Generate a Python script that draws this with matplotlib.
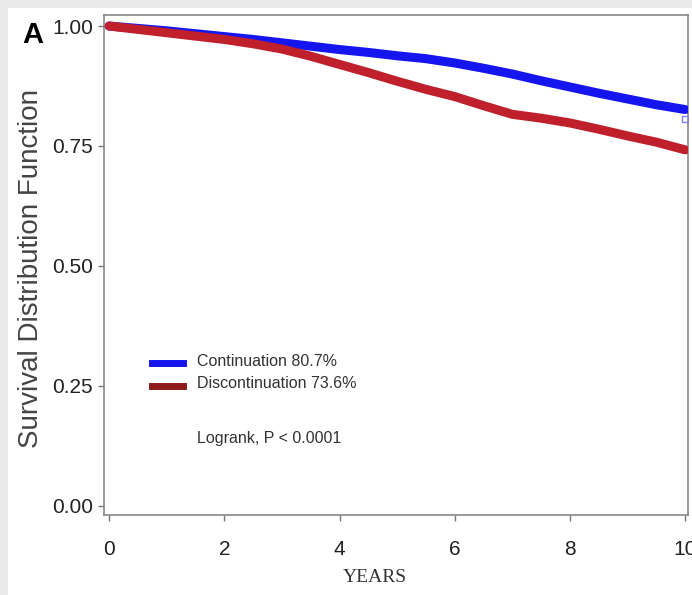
import matplotlib.pyplot as plt
from matplotlib.patches import Rectangle

# survival estimates
years = [0, 0.5, 1, 1.5, 2, 2.5, 3, 3.5, 4, 4.5, 5, 5.5, 6, 6.5, 7, 7.5, 8, 8.5, 9, 9.5, 10]
continuation = [1.0, 0.995, 0.99, 0.984, 0.978, 0.972, 0.965, 0.958, 0.951, 0.945, 0.938,
                0.932, 0.923, 0.912, 0.9, 0.886, 0.873, 0.86, 0.848, 0.836, 0.826]
discontinuation = [1.0, 0.993, 0.986, 0.979, 0.972, 0.963, 0.952, 0.937, 0.92, 0.903, 0.885,
                   0.868, 0.853, 0.834, 0.816, 0.808, 0.798, 0.785, 0.771, 0.758, 0.742]
labels = ["Continuation 80.7%", "Discontinuation 73.6%"]
xticks = [0, 2, 4, 6, 8, 10]
yticks = [0.0, 0.25, 0.5, 0.75, 1.0]

narrow = ["Liberation Sans Narrow", "Liberation Sans", "DejaVu Sans"]

fig = plt.figure(figsize=(6.92, 5.95), dpi=100)
fig.patch.set_facecolor("#e9e9e9")
fig.patches.append(Rectangle((8 / 692, 0), 1, 1 - 8 / 595, transform=fig.transFigure,
                             facecolor="white", edgecolor="none", zorder=-10))

ax = fig.add_axes([104 / 692, 80 / 595, (688 - 104) / 692, (515 - 15) / 595])
ax.plot(years, continuation, color="#1515f0", lw=6.5, solid_capstyle="round", zorder=3)
ax.plot(years, discontinuation, color="#c0202c", lw=6.5, solid_capstyle="round", zorder=3)
ax.plot([years[-1]], [continuation[-1] - 0.02], marker="s", ms=4, mfc="none",
        mec="#8080ff", zorder=4)

ax.set_xlim(-0.09, 10.05)
ax.set_ylim(-0.019, 1.023)
ax.set_xticks(xticks)
ax.set_xticklabels([str(t) for t in xticks], family=narrow, fontsize=15, color="#222222")
ax.set_yticks(yticks)
ax.set_yticklabels(["%.2f" % t for t in yticks], family=narrow, fontsize=15, color="#222222")
ax.tick_params(length=4, width=1, color="#777777", pad=4)
ax.tick_params(axis="x", pad=14)
for s in ax.spines.values():
    s.set_color("#888888")
    s.set_linewidth(1.2)

ax.set_xlabel("YEARS", family=["Liberation Serif", "DejaVu Serif"], fontsize=14,
              color="#333333")
ax.xaxis.set_label_coords((375 - 104) / 584, -(569 - 515) / 500)
ax.set_ylabel("Survival Distribution Function", family=["Liberation Sans", "DejaVu Sans"],
              fontsize=20, color="#444444")
ax.yaxis.set_label_coords(-(104 - 44) / 584, (515 - 268) / 500)

# legend drawn by hand to mimic SAS layout
legend_colors = ["#1515f0", "#8b1a1a"]
legend_y = [0.304, 0.258]
for lab, c, y in zip(labels, legend_colors, legend_y):
    ax.plot([0.082, 0.135], [y, y], transform=ax.transAxes, color=c, lw=5, clip_on=False)
    ax.text(0.16, y + 0.004, lab, transform=ax.transAxes, family=narrow, fontsize=11.5,
            color="#333333", va="center")
ax.text(0.16, 0.154, "Logrank, P < 0.0001", transform=ax.transAxes, family=narrow,
        fontsize=11.5, color="#333333", va="center")

fig.text(22 / 692, 1 - 35 / 595, "A", fontsize=21, fontweight="bold",
         family=narrow, va="center", ha="left")

fig.savefig("out.png", dpi=100, facecolor=fig.get_facecolor())
